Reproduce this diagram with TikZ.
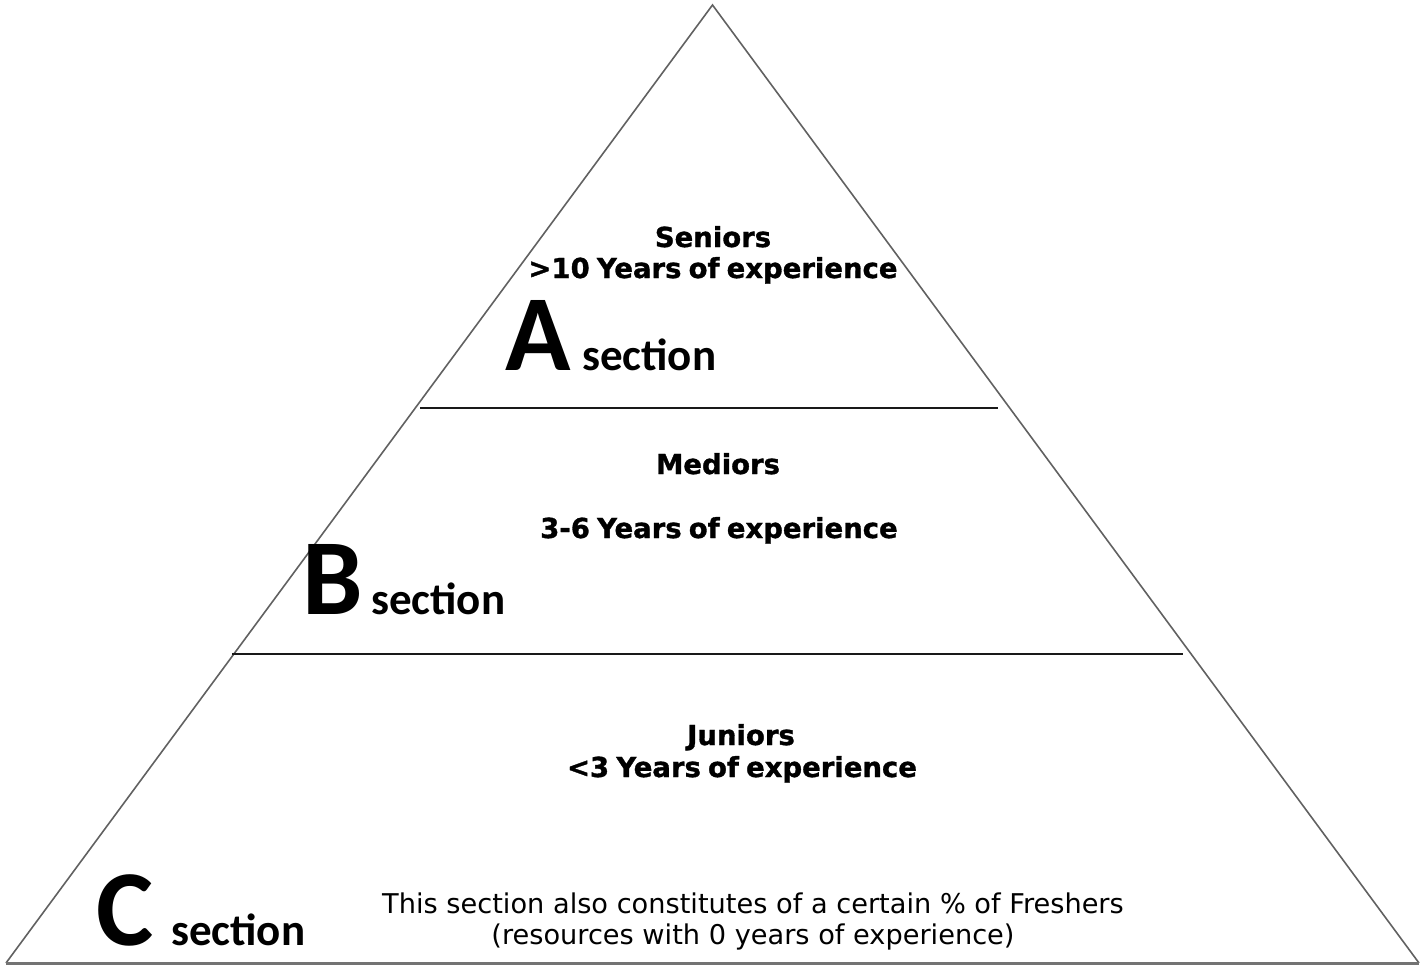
\documentclass[tikz,border=0pt]{standalone}
\usepackage{fontspec}
\setmainfont{Carlito}
\newfontfamily\verd[WordSpace=0.75, BoldFeatures={FakeBold=1.2}]{DejaVu Sans}
\newfontfamily\notefont{DejaVu Sans}
\begin{document}
\begin{tikzpicture}[x=1pt,y=-1pt,
  side/.style={draw=black!62, line width=1.6pt},
  basel/.style={draw=black!55, line width=3pt},
  divider/.style={draw=black!90, line width=2pt},
  head/.style={anchor=base, inner sep=0pt, font=\verd\bfseries\fontsize{27.5}{30}\selectfont},
  bigl/.style={anchor=base west, inner sep=0pt, font=\bfseries\fontsize{108}{110}\selectfont},
  sec/.style={anchor=base west, inner sep=0pt, font=\bfseries\fontsize{45}{50}\selectfont},
  note/.style={anchor=base, inner sep=0pt, font=\fontsize{27.2}{30}\selectfont}]
\useasboundingbox (0,0) rectangle (1425,969);

% pyramid outline
\coordinate (apex) at (712.5,5);
\coordinate (bl) at (6,963);
\coordinate (br) at (1419,963);
\draw[side] (bl) -- (apex) -- (br);
\draw[basel] (bl) -- (br);

% dividers between the sections
\coordinate (d1l) at (420,408);
\coordinate (d1r) at (998,408);
\coordinate (d2l) at (232,654);
\coordinate (d2r) at (1183,654);
\draw[divider] (d1l) -- (d1r);
\draw[divider] (d2l) -- (d2r);

% section A
\node[head] (sen) at (713,247) {Seniors};
\node[head] (senexp) at (713,278) {>10 Years of experience};
\node[bigl] (A) at (505,370) {A};
\node[sec] (Asec) at (582,370) {section};

% section B
\node[head] (med) at (718,474) {Mediors};
\node[head] (medexp) at (719,538) {3-6 Years of experience};
\node[bigl] (B) at (302,614) {B};
\node[sec] (Bsec) at (371,614) {section};

% section C
\node[head] (jun) at (741,745) {Juniors};
\node[head] (junexp) at (742,777) {<3 Years of experience};
\node[bigl] (C) at (96,945) {C};
\node[sec] (Csec) at (171,945) {section};
\node[note] (fresh1) at (753,913) {\notefont This section also constitutes of a certain \% of Freshers};
\node[note] (fresh2) at (753,944) {\verd (resources with 0 years of experience)};
\end{tikzpicture}
\end{document}
